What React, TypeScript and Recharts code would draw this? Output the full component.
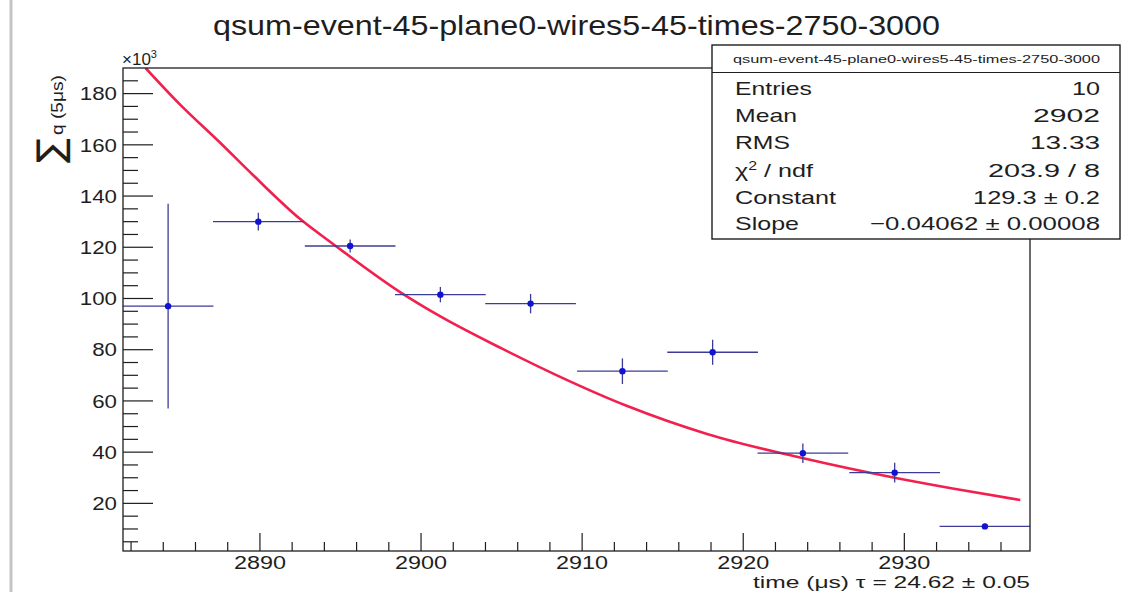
import React from 'react';
import { ComposedChart, XAxis, YAxis, Line, Scatter, ErrorBar } from 'recharts';

// ---- data (y in units of 10^3) ----
const binCenters = [2884.3, 2889.9, 2895.6, 2901.2, 2906.8, 2912.5, 2918.1, 2923.7, 2929.4, 2935.0];
const binHalfWidths = [2.815, 2.815, 2.815, 2.815, 2.815, 2.815, 2.815, 2.815, 2.815, 2.815];
const counts = [97, 130, 120.5, 101.5, 98, 71.6, 79, 39.6, 32, 11];
const countErrors = [40, 3.5, 2.5, 3, 3.8, 5, 4.9, 3.8, 3.9, 1];

const fitTimes = [2882.9, 2885, 2887.5, 2889.6, 2892.5, 2894.6, 2898.7, 2901.2, 2905, 2908.6, 2912.8, 2917.8, 2923.8, 2929.4, 2933, 2937.2];
const fitValues = [190, 176, 161, 148, 131, 121, 102.5, 93, 80.5, 69.5, 58, 47, 37.5, 30, 25.8, 21.3];

const xMajorTicks = [2890, 2900, 2910, 2920, 2930];
const xAllTicks = [2882, 2884, 2886, 2888, 2890, 2892, 2894, 2896, 2898, 2900, 2902, 2904, 2906, 2908, 2910, 2912, 2914, 2916, 2918, 2920, 2922, 2924, 2926, 2928, 2930, 2932, 2934, 2936];
const yMajorTicks = [20, 40, 60, 80, 100, 120, 140, 160, 180];
const yAllTicks = [5, 10, 15, 20, 25, 30, 35, 40, 45, 50, 55, 60, 65, 70, 75, 80, 85, 90, 95, 100, 105, 110, 115, 120, 125, 130, 135, 140, 145, 150, 155, 160, 165, 170, 175, 180, 185];

const titleText = 'qsum-event-45-plane0-wires5-45-times-2750-3000';
const statsLabels = ['Entries', 'Mean', 'RMS', 'χ2 / ndf', 'Constant', 'Slope'];
const statsValues = ['10', '2902', '13.33', '203.9 / 8', '129.3 ± 0.2', '−0.04062 ± 0.00008'];
const xAxisLabel = 'time (μs) τ = 24.62 ± 0.05';

const points = binCenters.map((x, i) => ({ x, y: counts[i], ex: binHalfWidths[i], ey: countErrors[i] }));
const fitData = fitTimes.map((x, i) => ({ x, y: fitValues[i] }));

// ---- layout ----
const W = 1133;
const H = 592;
const P = { left: 123, top: 68, right: 1030, bottom: 551 };
const FONT = '"Liberation Sans", Arial, Helvetica, sans-serif';
const INK = '#1e1e1e';

const statsLabelWidths = [77, 62, 55, 78, 101, 64];
const statsValueWidths = [28, 67, 70, 112, 127, 230];
const statsBaselines = [95, 122, 149, 176.5, 203.5, 229.5];

const XTick = (props: any) => {
  const { x, payload } = props;
  const v = payload.value;
  const major = xMajorTicks.includes(v);
  return (
    <g>
      <line x1={x} x2={x} y1={P.bottom} y2={P.bottom - (major ? 18 : 9)} stroke={INK} strokeWidth={1.2} />
      {major && (
        <text x={x} y={568.5} textAnchor="middle" fontFamily={FONT} fontSize={18} fill={INK}
          textLength={52} lengthAdjust="spacingAndGlyphs">{String(v)}</text>
      )}
    </g>
  );
};

const YTick = (props: any) => {
  const { y, payload } = props;
  const v = payload.value;
  const major = yMajorTicks.includes(v);
  const label = String(v);
  return (
    <g>
      <line x1={P.left} x2={P.left + (major ? 30 : 15)} y1={y} y2={y} stroke={INK} strokeWidth={1.2} />
      {major && (
        <text x={117} y={y + 6.7} textAnchor="end" fontFamily={FONT} fontSize={18.5} fill={INK}
          textLength={label.length * 12.4} lengthAdjust="spacingAndGlyphs">{label}</text>
      )}
    </g>
  );
};

const Dot = (props: any) => <circle cx={props.cx} cy={props.cy} r={3.2} fill="#1212d2" />;

export default function App() {
  return (
    <div style={{ position: 'absolute', left: 0, top: 0, width: W, height: H, background: '#fff' }}>
      <ComposedChart width={W} height={H}
        margin={{ top: P.top, right: W - P.right, bottom: 11, left: P.left - 60 }}>
        <XAxis dataKey="x" type="number" domain={[2881.5, 2937.8]} allowDataOverflow
          ticks={xAllTicks} interval={0} tick={XTick} tickLine={false} axisLine={false} height={30} />
        <YAxis type="number" domain={[1.4, 190]} allowDataOverflow
          ticks={yAllTicks} interval={0} tick={YTick} tickLine={false} axisLine={false} width={60} />
        <Line data={fitData} dataKey="y" type="monotone" stroke="#f2204e" strokeWidth={2.6}
          dot={false} activeDot={false} isAnimationActive={false} />
        <Scatter data={points} dataKey="y" shape={Dot} isAnimationActive={false}>
          <ErrorBar dataKey="ex" direction="x" width={0} stroke="#3c3c96" strokeWidth={1.3} isAnimationActive={false} />
          <ErrorBar dataKey="ey" direction="y" width={0} stroke="#3c3c96" strokeWidth={1.3} isAnimationActive={false} />
        </Scatter>
      </ComposedChart>

      <svg width={W} height={H} style={{ position: 'absolute', left: 0, top: 0, pointerEvents: 'none' }}>
        <line x1={11} x2={11} y1={0} y2={H} stroke="#c4c4c4" strokeWidth={3} />
        <rect x={P.left} y={P.top} width={P.right - P.left} height={P.bottom - P.top}
          fill="none" stroke={INK} strokeWidth={1.3} />

        <text x={213} y={35} fontFamily={FONT} fontSize={28} fill={INK}
          textLength={727} lengthAdjust="spacingAndGlyphs">{titleText}</text>

        <text x={122} y={65} fontFamily={FONT} fontSize={17} fill={INK}>
          <tspan>×10</tspan><tspan dy={-7} fontSize={11}>3</tspan>
        </text>

        <text transform="translate(63,163) rotate(-90)" fontFamily={FONT} fill={INK}>
          <tspan fontFamily='"DejaVu Sans", sans-serif' fontSize={37}>∑</tspan>
          <tspan fontSize={17} dx={3} textLength={60} lengthAdjust="spacingAndGlyphs">q (5μs)</tspan>
        </text>

        <text x={753} y={587.5} fontFamily={FONT} fontSize={17} fill={INK}
          textLength={277} lengthAdjust="spacingAndGlyphs">{xAxisLabel}</text>

        {/* stats box */}
        <rect x={712} y={45} width={408} height={194} fill="#fff" stroke={INK} strokeWidth={1.4} />
        <line x1={712} x2={1120} y1={72.5} y2={72.5} stroke={INK} strokeWidth={1.2} />
        <text x={733} y={63} fontFamily={FONT} fontSize={11} fill={INK}
          textLength={367} lengthAdjust="spacingAndGlyphs">{titleText}</text>
        {statsLabels.map((lab, i) => (
          <text key={'l' + i} x={735} y={statsBaselines[i]} fontFamily={FONT} fontSize={19} fill={INK}
            textLength={statsLabelWidths[i]} lengthAdjust="spacingAndGlyphs">
            {lab === 'χ2 / ndf'
              ? [<tspan key="a">χ</tspan>, <tspan key="b" dy={-7} fontSize={12}>2</tspan>, <tspan key="c" dy={7}> / ndf</tspan>]
              : lab}
          </text>
        ))}
        {statsValues.map((val, i) => (
          <text key={'v' + i} x={1100} y={statsBaselines[i]} textAnchor="end" fontFamily={FONT} fontSize={19} fill={INK}
            textLength={statsValueWidths[i]} lengthAdjust="spacingAndGlyphs">{val}</text>
        ))}
      </svg>
    </div>
  );
}
